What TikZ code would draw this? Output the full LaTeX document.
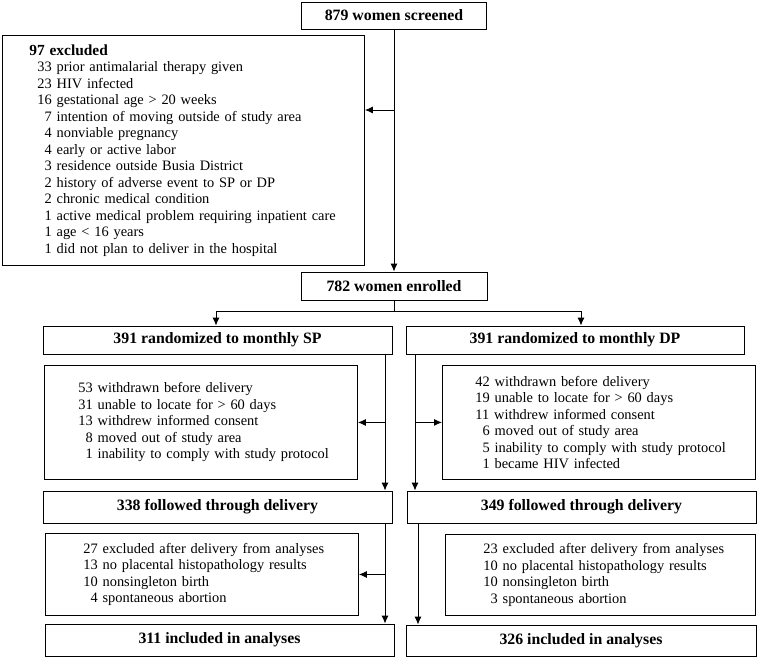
\documentclass[tikz,border=0pt]{standalone}
\usepackage{fontspec}
\setmainfont{Liberation Serif}
\usepackage{tikz}
\usetikzlibrary{calc, arrows.meta}
\tikzset{>={Latex[length=8pt,width=7pt]}}
\tikzset{head/.style = {draw, line width=0.9pt, inner sep=0pt, font=\bfseries\fontsize{15.8}{18}\selectfont},
  list/.style = {draw, line width=0.9pt, anchor=north west, align=left, inner sep=0pt, font=\fontsize{14.4}{16.5}\selectfont},
  indent/.style = {execute at begin node={\leftskip=#1}}}
\newcommand{\pad}{\phantom{0}}

\begin{document}
\begin{tikzpicture}[x=1pt, y=-1pt, line width=0.9pt]
\useasboundingbox (0,0) rectangle (758,657);
% boxes with counts
\node[head, minimum width=185pt, minimum height=27pt] (screened) at (394,15.5) {879 women screened};
\node[head, minimum width=186pt, minimum height=28pt] (enrolled) at (394,286) {782 women enrolled};
\node[head, minimum width=349pt, minimum height=28pt] (sp) at (217.5,340) {391 randomized to monthly SP};
\node[head, minimum width=338pt, minimum height=28pt] (dp) at (575,340) {391 randomized to monthly DP};
\node[head, minimum width=349pt, minimum height=32pt] (spdel) at (217.5,507) {338 followed through delivery};
\node[head, minimum width=349pt, minimum height=32pt] (dpdel) at (581.5,507) {349 followed through delivery};
\node[head, minimum width=349pt, minimum height=32pt] (spana) at (219.5,640) {311 included in analyses};
\node[head, minimum width=350pt, minimum height=31pt] (dpana) at (581,640.5) {326 included in analyses};
% boxes with reasons
\node[list, indent=27pt, text width=362pt, minimum height=230pt] (excl) at (2,35) {{\fontsize{15.4}{16.5}\selectfont\bfseries 97 excluded}\\
\hspace*{8pt}33 prior antimalarial therapy given\\
\hspace*{8pt}23 HIV infected\\
\hspace*{8pt}16 gestational age > 20 weeks\\
\hspace*{8pt}\pad7 intention of moving outside of study area\\
\hspace*{8pt}\pad4 nonviable pregnancy\\
\hspace*{8pt}\pad4 early or active labor\\
\hspace*{8pt}\pad3 residence outside Busia District\\
\hspace*{8pt}\pad2 history of adverse event to SP or DP\\
\hspace*{8pt}\pad2 chronic medical condition\\
\hspace*{8pt}\pad1 active medical problem requiring inpatient care\\
\hspace*{8pt}\pad1 age < 16 years\\
\hspace*{8pt}\pad1 did not plan to deliver in the hospital};
\node[list, indent=34pt, text width=313pt, minimum height=114pt] (spw) at (44,365) {53 withdrawn before delivery\\
31 unable to locate for > 60 days\\
13 withdrew informed consent\\
\pad8 moved out of study area\\
\pad1 inability to comply with study protocol};
\node[list, indent=33pt, text width=313pt, minimum height=114pt] (dpw) at (442,365) {42 withdrawn before delivery\\
19 unable to locate for > 60 days\\
11 withdrew informed consent\\
\pad6 moved out of study area\\
\pad5 inability to comply with study protocol\\
\pad1 became HIV infected};
\node[list, indent=38pt, text width=313pt, minimum height=82pt] (spx) at (45,533) {27 excluded after delivery from analyses\\
13 no placental histopathology results\\
10 nonsingleton birth\\
\pad4 spontaneous abortion};
\node[list, indent=38pt, text width=310pt, minimum height=81pt] (dpx) at (445,534) {23 excluded after delivery from analyses\\
10 no placental histopathology results\\
10 nonsingleton birth\\
\pad3 spontaneous abortion};
% connectors
\coordinate (exj) at (394,110);
\coordinate (split) at (394,311);
\coordinate (spl) at (385,0);
\coordinate (dpl) at (415,0);
\coordinate (dpm) at (418,0);
\draw[->] (screened) -- (enrolled);
\draw[->] (exj) -- (exj -| excl.east);
\draw (enrolled) -- (split);
\draw[->] (split) -| (sp.north -| 216,0);
\draw[->] (split) -| (dp.north -| 581,0);
\draw[->] (sp.south -| spl) -- (spdel.north -| spl);
\draw[->] (spw.east -| spl) -- (spw.east);
\draw[->] (spdel.south -| spl) -- (spana.north -| spl);
\draw[->] (spx.east -| spl) -- (spx.east);
\draw[->] (dp.south -| dpl) -- (dpdel.north -| dpl);
\draw[->] (dpw.west -| dpl) -- (dpw.west);
\draw[->] (dpdel.south -| dpm) -- (dpana.north -| dpm);
\end{tikzpicture}
\end{document}
